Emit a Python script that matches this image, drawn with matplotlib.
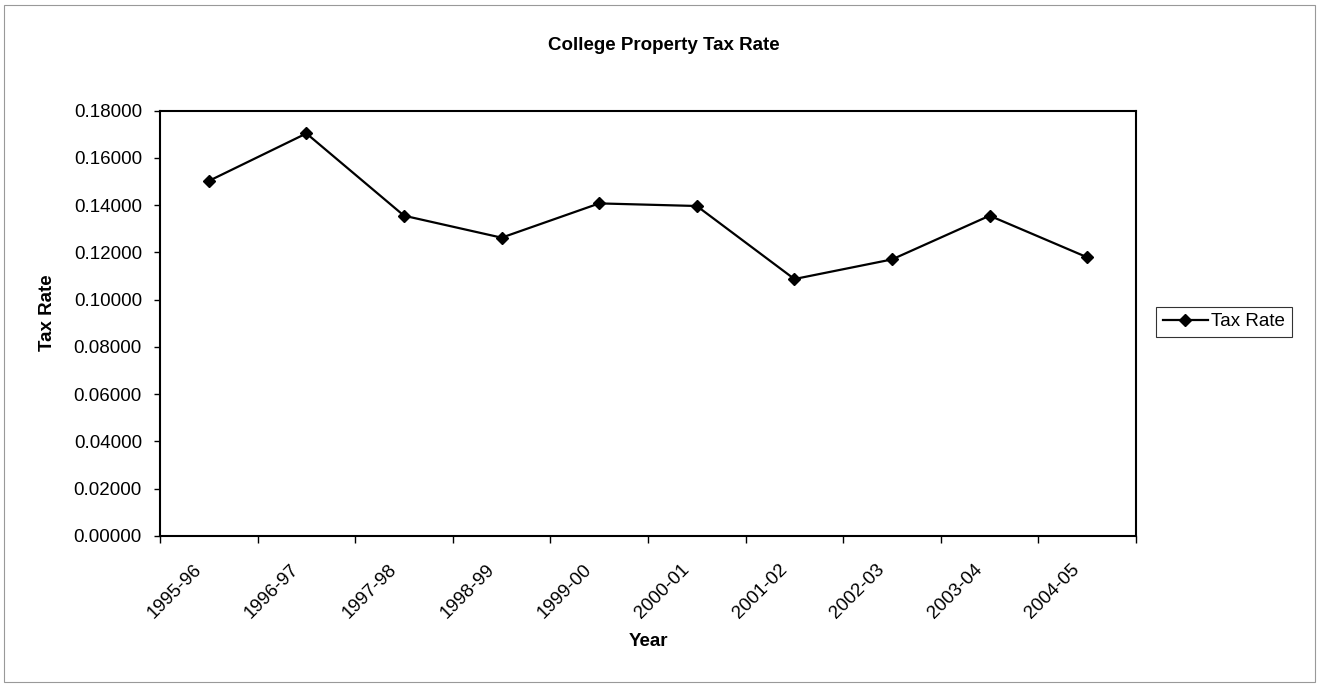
import matplotlib
matplotlib.use("Agg")
import matplotlib.pyplot as plt
import matplotlib.transforms as mtransforms
from matplotlib.patches import Rectangle
import numpy as np

categories = ["1995-96", "1996-97", "1997-98", "1998-99", "1999-00",
              "2000-01", "2001-02", "2002-03", "2003-04", "2004-05"]
tax_rate = [0.1502, 0.1703, 0.1355, 0.1262, 0.1407,
            0.1396, 0.1087, 0.1170, 0.1355, 0.1179]
y_ticks = [0.00, 0.02, 0.04, 0.06, 0.08, 0.10, 0.12, 0.14, 0.16, 0.18]

plt.rcParams['font.family'] = ['Liberation Sans', 'DejaVu Sans']
FS = 13.5

W, H = 1318, 685
fig = plt.figure(figsize=(W / 100, H / 100), dpi=100)
fig.patch.set_facecolor("white")

left, right, top, bottom = 160, 1136, 110.5, 536
ax = fig.add_axes([left / W, 1 - bottom / H, (right - left) / W, (bottom - top) / H])

x = np.arange(len(categories))
line, = ax.plot(x, tax_rate, color="black", linewidth=1.6, marker="D",
                markersize=6.5, markerfacecolor="black", markeredgecolor="black",
                label="Tax Rate")

ax.set_xlim(-0.5, len(categories) - 0.5)
ax.set_ylim(0, 0.18)

ax.set_yticks(y_ticks)
ax.set_yticklabels([f"{v:.5f}" for v in y_ticks], fontsize=FS)
ax.tick_params(axis="y", direction="out", length=4, width=1, pad=9, color="black")

ax.set_xticks(x)
ax.set_xticklabels(categories, fontsize=FS, rotation=45, ha="right",
                   va="top", rotation_mode="anchor")
ax.tick_params(axis="x", which="major", length=0, pad=18)
ax.set_xticks(np.arange(-0.5, len(categories) + 0.5, 1), minor=True)
ax.tick_params(axis="x", which="minor", direction="out", length=5, width=1, color="black")

shift = mtransforms.ScaledTranslation(-16 / 100, 0, fig.dpi_scale_trans)
for lbl in ax.get_xticklabels():
    lbl.set_transform(lbl.get_transform() + shift)

for s in ax.spines.values():
    s.set_linewidth(1.5)
    s.set_color("black")

fig.text(664 / W, 1 - 45 / H, "College Property Tax Rate", ha="center", va="center",
         fontsize=FS, fontweight="bold")
fig.text(48 / W, 1 - 313 / H, "Tax Rate", ha="center", va="center",
         fontsize=FS, fontweight="bold", rotation=90)
fig.text(648 / W, 1 - 641 / H, "Year", ha="center", va="center",
         fontsize=FS, fontweight="bold")

leg = fig.legend(handles=[line], labels=["Tax Rate"], loc="center",
                 bbox_to_anchor=(1224 / W, 1 - 321.7 / H), bbox_transform=fig.transFigure,
                 fontsize=FS, frameon=True, fancybox=False, edgecolor="black",
                 handlelength=2.4, handletextpad=0.2, borderpad=0.35, borderaxespad=0)
leg.get_frame().set_linewidth(0.8)

fig.patches.append(Rectangle((4 / W, 1 - 682 / H), 1311 / W, 677 / H,
                             transform=fig.transFigure, fill=False,
                             edgecolor="#999999", linewidth=0.8))

fig.savefig("out.png", dpi=100)
